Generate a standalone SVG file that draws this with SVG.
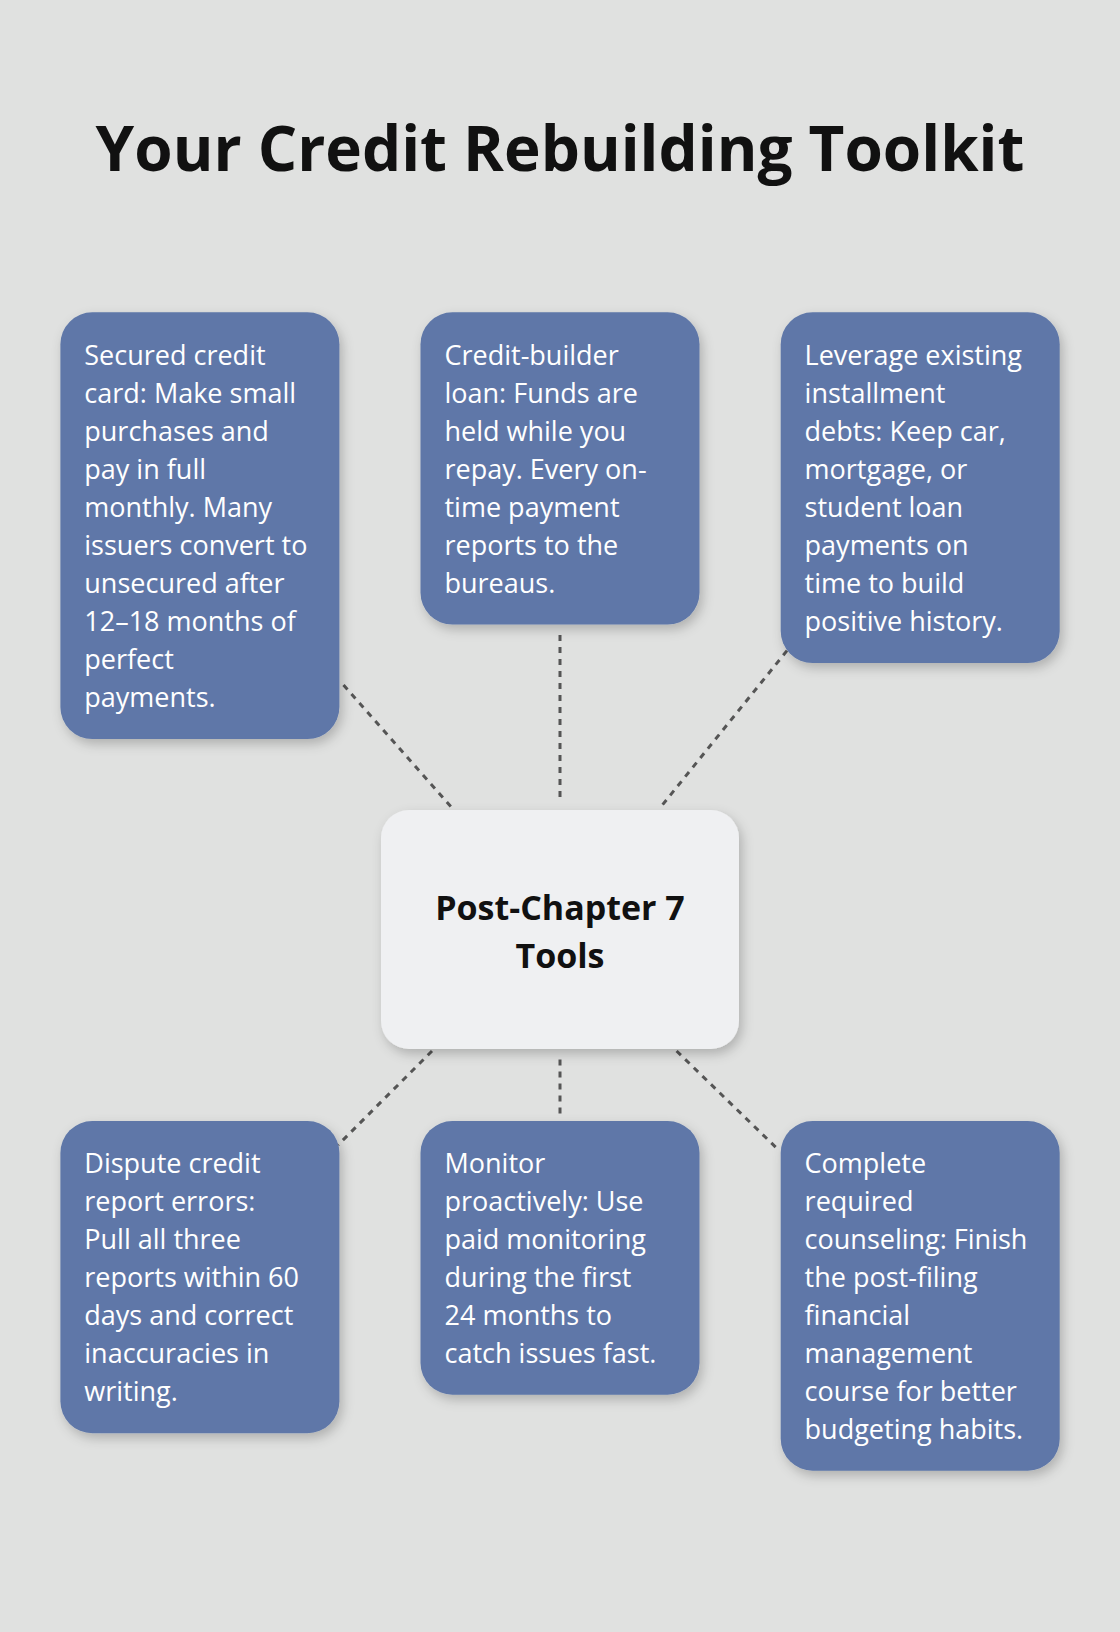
<svg xmlns="http://www.w3.org/2000/svg" width="1120" height="1632" viewBox="0 0 1120 1632">
<style>
.b{fill:#5e77a8;filter:url(#sh)}
.t{font-family:"Open Sans","Noto Sans",sans-serif;font-size:27px;fill:#ffffff}
.c{stroke:#555;stroke-width:3;stroke-dasharray:6,6;fill:none}
</style>
<defs><filter id="sh" x="-20%" y="-20%" width="140%" height="140%"><feDropShadow dx="3" dy="5" stdDeviation="6" flood-color="#000" flood-opacity="0.22"/></filter></defs>
<rect width="1120" height="1632" fill="#e0e1e0"/>
<text x="560" y="171" text-anchor="middle" font-family="'Open Sans','Noto Sans',sans-serif" font-weight="bold" font-size="62" fill="#111">Your Credit Rebuilding Toolkit</text>
<g id="connectors">
<line class="c" x1="343.5" y1="685" x2="453.8" y2="809.8"/>
<line class="c" x1="560" y1="635" x2="560" y2="801.5"/>
<line class="c" x1="787" y1="650.6" x2="661" y2="806.7"/>
<line class="c" x1="432" y1="1051" x2="338" y2="1145"/>
<line class="c" x1="560" y1="1059.6" x2="560" y2="1113.8"/>
<line class="c" x1="676.6" y1="1051" x2="778.6" y2="1150"/>
</g>
<g id="center"><rect x="381" y="810" width="358" height="239" rx="28" fill="#eff0f2" filter="url(#sh)"/>
<text x="560" y="920" text-anchor="middle" font-family="'Open Sans','Noto Sans',sans-serif" font-weight="bold" font-size="34" fill="#111">Post-Chapter 7</text>
<text x="560" y="968" text-anchor="middle" font-family="'Open Sans','Noto Sans',sans-serif" font-weight="bold" font-size="34" fill="#111">Tools</text></g>
<g id="n1"><rect class="b" x="60.4" y="312.3" width="279" height="426.8" rx="32"/>
<text class="t"><tspan x="84.3" y="365.4">Secured credit</tspan><tspan x="84.3" dy="38">card: Make small</tspan><tspan x="84.3" dy="38">purchases and</tspan><tspan x="84.3" dy="38">pay in full</tspan><tspan x="84.3" dy="38">monthly. Many</tspan><tspan x="84.3" dy="38">issuers convert to</tspan><tspan x="84.3" dy="38">unsecured after</tspan><tspan x="84.3" dy="38">12–18 months of</tspan><tspan x="84.3" dy="38">perfect</tspan><tspan x="84.3" dy="38">payments.</tspan></text></g>
<g id="n2"><rect class="b" x="420.5" y="312.3" width="279" height="312.3" rx="32"/>
<text class="t"><tspan x="444.5" y="365.4">Credit-builder</tspan><tspan x="444.5" dy="38">loan: Funds are</tspan><tspan x="444.5" dy="38">held while you</tspan><tspan x="444.5" dy="38">repay. Every on-</tspan><tspan x="444.5" dy="38">time payment</tspan><tspan x="444.5" dy="38">reports to the</tspan><tspan x="444.5" dy="38">bureaus.</tspan></text></g>
<g id="n3"><rect class="b" x="780.7" y="312.3" width="279" height="350.8" rx="32"/>
<text class="t"><tspan x="804.6" y="365.4">Leverage existing</tspan><tspan x="804.6" dy="38">installment</tspan><tspan x="804.6" dy="38">debts: Keep car,</tspan><tspan x="804.6" dy="38">mortgage, or</tspan><tspan x="804.6" dy="38">student loan</tspan><tspan x="804.6" dy="38">payments on</tspan><tspan x="804.6" dy="38">time to build</tspan><tspan x="804.6" dy="38">positive history.</tspan></text></g>
<g id="n4"><rect class="b" x="60.4" y="1121" width="279" height="312.3" rx="32"/>
<text class="t"><tspan x="84.3" y="1173">Dispute credit</tspan><tspan x="84.3" dy="38">report errors:</tspan><tspan x="84.3" dy="38">Pull all three</tspan><tspan x="84.3" dy="38">reports within 60</tspan><tspan x="84.3" dy="38">days and correct</tspan><tspan x="84.3" dy="38">inaccuracies in</tspan><tspan x="84.3" dy="38">writing.</tspan></text></g>
<g id="n5"><rect class="b" x="420.5" y="1121" width="279" height="273.8" rx="32"/>
<text class="t"><tspan x="444.5" y="1173">Monitor</tspan><tspan x="444.5" dy="38">proactively: Use</tspan><tspan x="444.5" dy="38">paid monitoring</tspan><tspan x="444.5" dy="38">during the first</tspan><tspan x="444.5" dy="38">24 months to</tspan><tspan x="444.5" dy="38">catch issues fast.</tspan></text></g>
<g id="n6"><rect class="b" x="780.7" y="1121" width="279" height="349.7" rx="32"/>
<text class="t"><tspan x="804.6" y="1173">Complete</tspan><tspan x="804.6" dy="38">required</tspan><tspan x="804.6" dy="38">counseling: Finish</tspan><tspan x="804.6" dy="38">the post-filing</tspan><tspan x="804.6" dy="38">financial</tspan><tspan x="804.6" dy="38">management</tspan><tspan x="804.6" dy="38">course for better</tspan><tspan x="804.6" dy="38">budgeting habits.</tspan></text></g>
</svg>
